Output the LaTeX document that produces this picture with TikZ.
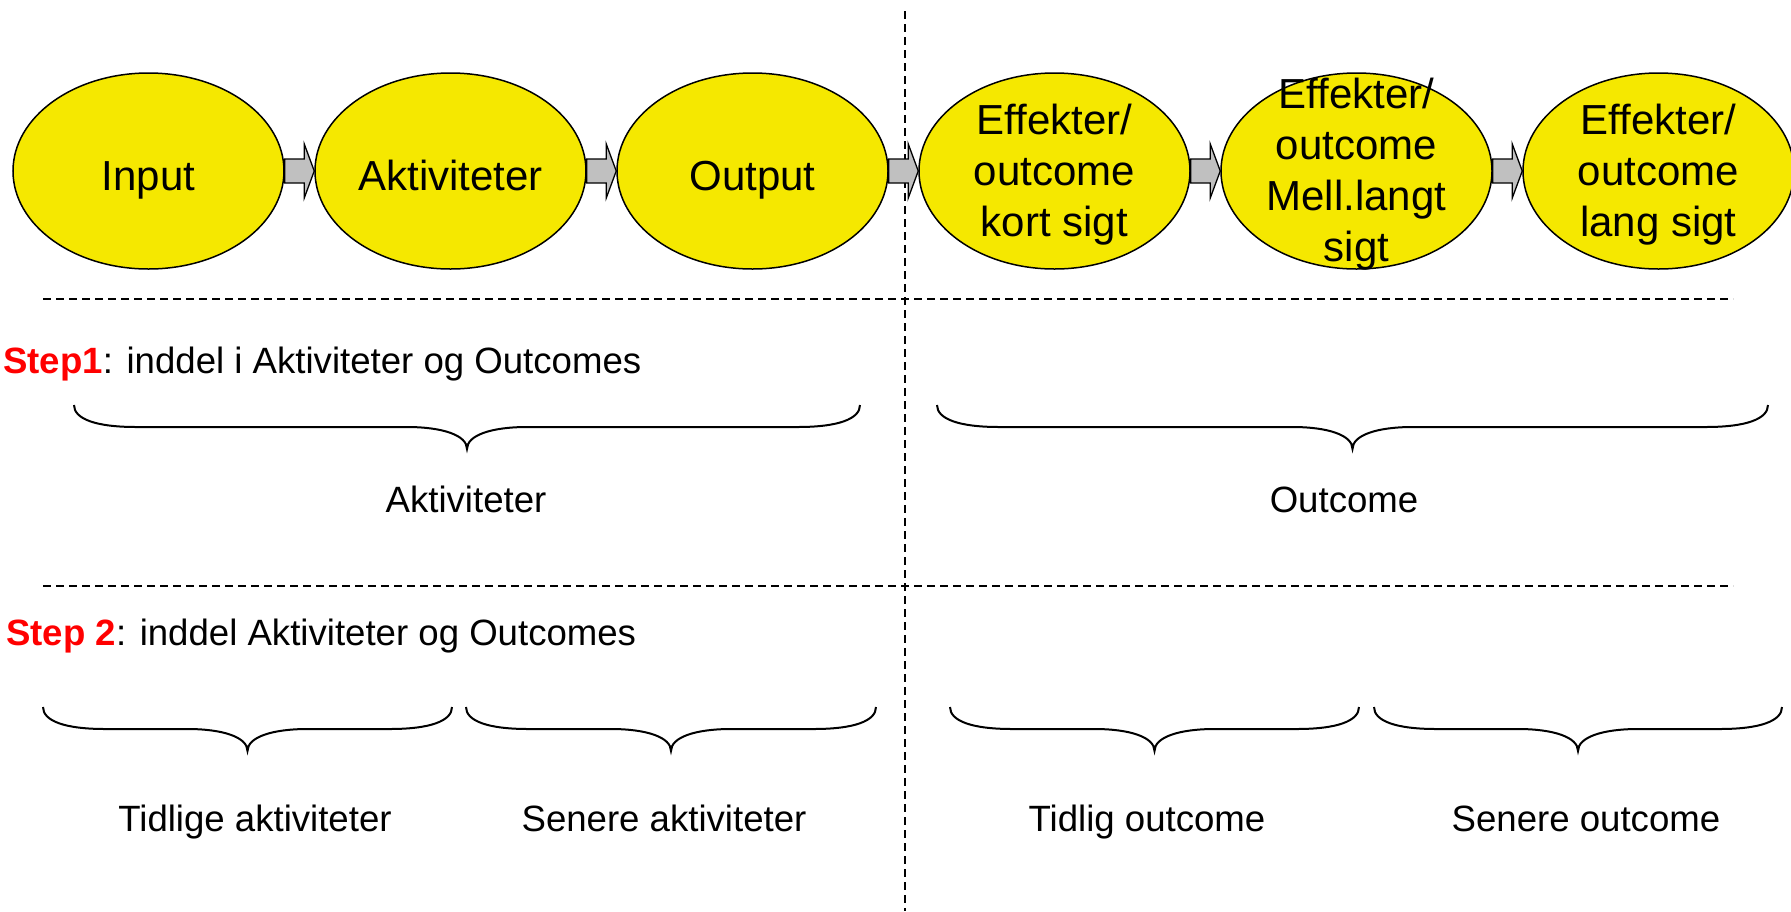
\documentclass[tikz,border=0pt]{standalone}
\usepackage{fontspec}
\setmainfont{Liberation Sans}
\usetikzlibrary{shapes.geometric,calc}
\definecolor{ellyellow}{HTML}{F5E800}
\definecolor{arrowgray}{HTML}{C0C0C0}
\definecolor{steppred}{HTML}{FF0000}
\tikzset{
  oval/.style={ellipse,draw=black,line width=1.5pt,fill=ellyellow,minimum width=271pt,minimum height=196pt,inner sep=0pt},
  ovaltext/.style={align=center,inner sep=0pt,font=\fontsize{42}{51}\selectfont},
  blockarrow/.style={draw=black,line width=1.3pt,fill=arrowgray,line join=miter},
  divider/.style={draw=black,line width=1.5pt,dash pattern=on 8pt off 5pt},
  bracestyle/.style={draw=black,line width=2pt},
  smalltext/.style={inner sep=0pt,font=\fontsize{36.6}{44}\selectfont},
}
\newcommand\curlybrace[3]{%
  \draw[bracestyle] (#1,#3) .. controls (#1,#3+14) and (#1+22,#3+22) .. (#1+62,#3+22)
    -- ({(#1+#2)/2-60},#3+22) .. controls ({(#1+#2)/2-25},#3+22) and ({(#1+#2)/2},#3+30) .. ({(#1+#2)/2},#3+44)
    .. controls ({(#1+#2)/2},#3+30) and ({(#1+#2)/2+25},#3+22) .. ({(#1+#2)/2+60},#3+22)
    -- (#2-62,#3+22) .. controls (#2-22,#3+22) and (#2,#3+14) .. (#2,#3);}
\newcommand\blockarr[2]{%
  \draw[blockarrow] ($(#1.east)+(0,-12)$) -- ($(#2.west)+(-10,-12)$) -- ($(#2.west)+(-10,-27)$)
    -- (#2.west) -- ($(#2.west)+(-10,27)$) -- ($(#2.west)+(-10,12)$) -- ($(#1.east)+(0,12)$) -- cycle;}
\begin{document}
\begin{tikzpicture}[x=1pt,y=-1pt]
\useasboundingbox[fill=white] (0,0) rectangle (1791,911);
% dividers
\draw[divider] (905,11) -- (905,911);
\draw[divider] (43,299) -- (1733,299);
\draw[divider] (43,586) -- (1733,586);
\path (148.5,171) coordinate (c1) (450.5,171) coordinate (c2) (752.5,171) coordinate (c3)
      (1054.5,171) coordinate (c4) (1356.5,171) coordinate (c5) (1658.5,171) coordinate (c6);
\node[oval] (e1) at (c1) {};
\node[oval] (e2) at (c2) {};
\node[oval] (e3) at (c3) {};
\node[oval] (e4) at (c4) {};
\node[oval] (e5) at (c5) {};
\node[oval] (e6) at (c6) {};
\blockarr{e1}{e2}
\blockarr{e2}{e3}
\blockarr{e3}{e4}
\blockarr{e4}{e5}
\blockarr{e5}{e6}
\node[ovaltext,anchor=base] (t1) at ($(e1.center)+(0,19)$) {Input};
\node[ovaltext,anchor=base] (t2) at ($(e2.center)+(0,19)$) {Aktiviteter};
\node[ovaltext,anchor=base] (t3) at ($(e3.center)+(0,19)$) {Output};
\node[ovaltext] (t4) at ($(e4.center)+(0,4)$) {Effekter/\\outcome\\kort sigt};
\node[ovaltext] (t5) at ($(e5.center)+(0,3)$) {Effekter/\\outcome\\Mell.langt\\sigt};
\node[ovaltext] (t6) at ($(e6.center)+(0,4)$) {Effekter/\\outcome\\lang sigt};
% step 1
\node[smalltext,anchor=base west] (s1) at (3,373) {{\color{steppred}\bfseries Step1}: inddel i Aktiviteter og Outcomes};
\curlybrace{74}{860}{405}
\curlybrace{937}{1768}{405}
\node[smalltext,anchor=base] (l1) at (466,512) {Aktiviteter};
\node[smalltext,anchor=base] (l2) at (1344,512) {Outcome};
% step 2
\node[smalltext,anchor=base west] (s2) at (6,645) {{\color{steppred}\bfseries Step 2}: inddel Aktiviteter og Outcomes};
\curlybrace{43}{452}{707}
\curlybrace{466}{876}{707}
\curlybrace{950}{1359}{707}
\curlybrace{1374}{1782}{707}
\node[smalltext,anchor=base] (l3) at (255,831) {Tidlige aktiviteter};
\node[smalltext,anchor=base] (l4) at (664,831) {Senere aktiviteter};
\node[smalltext,anchor=base] (l5) at (1147,831) {Tidlig outcome};
\node[smalltext,anchor=base] (l6) at (1586,831) {Senere outcome};
\end{tikzpicture}
\end{document}
